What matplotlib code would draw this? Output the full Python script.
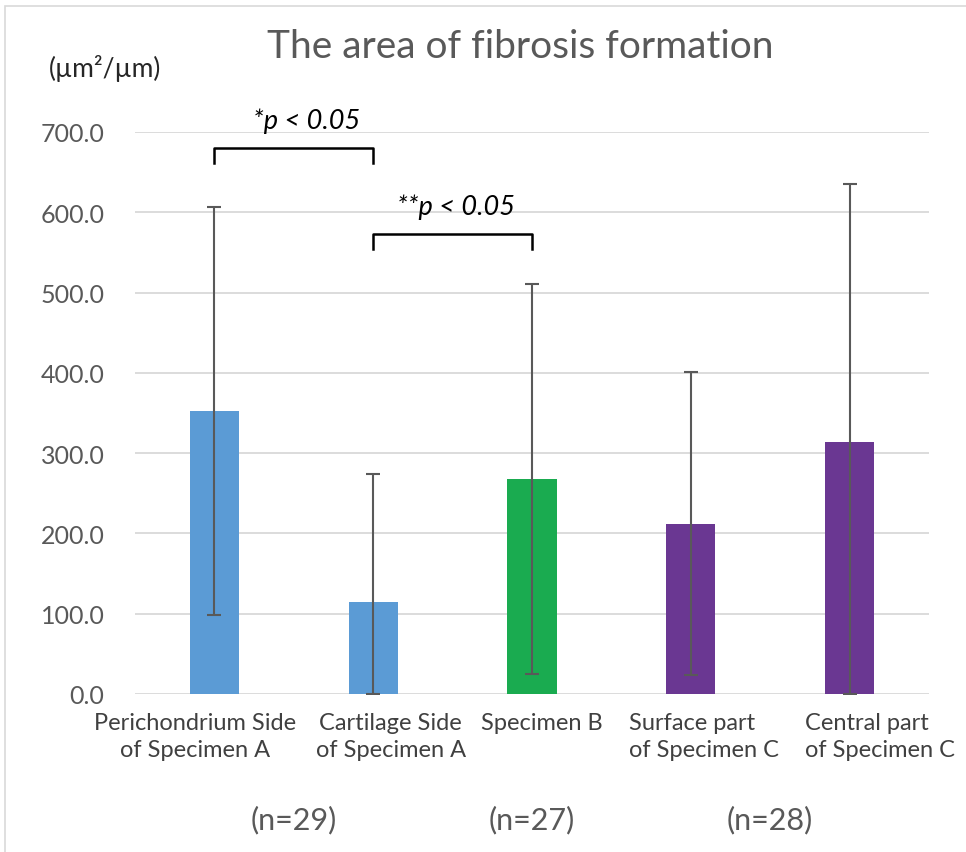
import matplotlib
matplotlib.use("Agg")
import matplotlib.pyplot as plt
from matplotlib.patches import Rectangle
import numpy as np

plt.rcParams['font.family'] = ['Lato', 'DejaVu Sans']

categories = ["Perichondrium Side\nof Specimen A", "Cartilage Side\nof Specimen A",
              "Specimen B", "Surface part\nof Specimen C", "Central part\nof Specimen C"]
label_offsets = [-0.12, 0.11, 0.06, 0.08, 0.19]
label_align = ["center", "center", "center", "left", "left"]
means = [352.5, 115.0, 268.0, 212.0, 314.5]
sds = [253.5, 158.5, 243.0, 188.5, 320.5]
colors = ["#5B9BD5", "#5B9BD5", "#1AAB50", "#6A3792", "#6A3792"]
yticks = [0, 100, 200, 300, 400, 500, 600, 700]
n_labels = ["(n=29)", "(n=27)", "(n=28)"]
n_positions = [0.5, 2.0, 3.5]
sig_labels = ["*p < 0.05", "**p < 0.05"]
sig_pairs = [(0, 1), (1, 2)]
sig_heights = [680, 573]
sig_text_x = [0.58, 1.52]

W, H = 966, 853
fig = plt.figure(figsize=(W / 100, H / 100), dpi=100)
fig.patch.set_facecolor("white")
ax = fig.add_axes([135 / W, 1 - 695 / H, (929 - 135) / W, (695 - 133) / H])

x = np.arange(len(categories))
lower = [min(m, s) for m, s in zip(means, sds)]
ax.bar(x, means, width=0.31, color=colors, zorder=2)
ax.errorbar(x, means, yerr=[lower, sds], fmt="none", ecolor="#595959",
            elinewidth=1.5, capsize=5, capthick=1.5, zorder=3)

ax.set_xlim(-0.5, len(categories) - 0.5)
ax.set_ylim(0, 700)
ax.set_yticks(yticks)
ax.set_yticklabels([f"{v:.1f}" for v in yticks], fontsize=18, color="#595959")
ax.set_xticks(x)
ax.set_xticklabels([])
ax.tick_params(axis="both", length=0)
ax.tick_params(axis="y", pad=22)
for s in ax.spines.values():
    s.set_visible(False)
ax.grid(axis="y", color="#D9D9D9", linewidth=1.3, zorder=0)
ax.set_axisbelow(True)

# category labels
for xi, lab, off, al in zip(x, categories, label_offsets, label_align):
    ax.text(xi + off, -0.032, lab, transform=ax.get_xaxis_transform(),
            ha="center", va="top", multialignment=al, fontsize=17,
            color="#404040", linespacing=1.33, clip_on=False)

# significance brackets
for (a, b), h, lab, tx in zip(sig_pairs, sig_heights, sig_labels, sig_text_x):
    ax.plot([a, a, b, b], [h - 19, h, h, h - 19], color="black", lw=1.8,
            clip_on=False, zorder=4)
    ax.text(tx, h + 25, lab, ha="center", va="baseline",
            fontsize=19.5, style="italic", color="black", clip_on=False)

# n labels
for pos, lab in zip(n_positions, n_labels):
    ax.text(pos, -0.222, lab, transform=ax.get_xaxis_transform(), ha="center",
            va="center", fontsize=22, color="#595959")

fig.text(520 / W, 1 - 47 / H, "The area of fibrosis formation", ha="center",
         va="center", fontsize=28, color="#595959")
fig.text(105 / W, 1 - 68 / H, "(µm²/µm)", ha="center", va="center",
         fontsize=19, color="#262626")

fig.patches.append(Rectangle((5 / W, -0.1), 2, 1 - 7 / H + 0.1,
                             transform=fig.transFigure, fill=False,
                             edgecolor="#D9D9D9", lw=1.2))

fig.savefig("out.png", dpi=100)
